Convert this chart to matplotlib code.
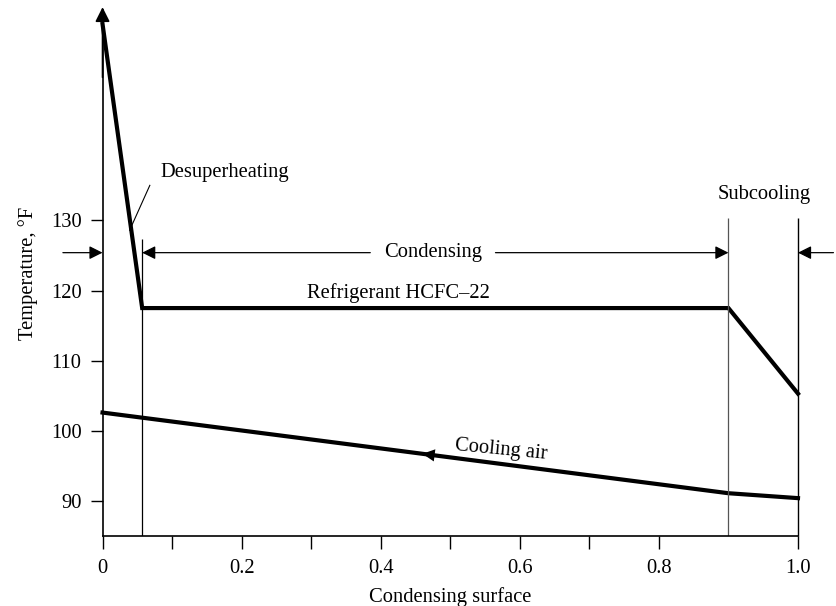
import matplotlib.pyplot as plt
import numpy as np

plt.rcParams['font.family'] = ['Liberation Serif', 'DejaVu Serif']

# data
refrig_x = [0, 0.057, 0.9, 1.0]
refrig_y = [158, 117.5, 117.5, 105.3]
air_x = [0, 0.9, 1.0]
air_y = [102.6, 91.1, 90.4]
yticks = [90, 100, 110, 120, 130]
xticks = [0, 0.2, 0.4, 0.6, 0.8, 1.0]
xtick_labels = ['0', '0.2', '0.4', '0.6', '0.8', '1.0']
zone_edges = [0.057, 0.9, 1.0]
dim_y = 125.4

FS = 14.8


def main():
    fig = plt.figure(figsize=(8.37, 6.06), dpi=100)
    ax = fig.add_axes([0.1225, 0.1155, 0.8309, 0.868])
    ax.set_xlim(0, 1.0)
    ax.set_ylim(85, 160)

    ax.plot(refrig_x, refrig_y, color='k', lw=3, solid_joinstyle='miter', clip_on=False)
    ax.plot(air_x, air_y, color='k', lw=3, clip_on=False)

    # zone boundaries
    ax.vlines(zone_edges[0], 85, 127.3, color='k', lw=0.9)
    ax.vlines(zone_edges[1], 85, 130.4, color='#555555', lw=0.9)
    ax.vlines(zone_edges[2], 85, 130.4, color='k', lw=1.0, clip_on=False)

    # spines & ticks
    for s in ['top', 'right']:
        ax.spines[s].set_visible(False)
    ax.spines['left'].set_linewidth(1.2)
    ax.spines['bottom'].set_linewidth(1.2)
    ax.set_yticks(yticks)
    ax.set_xticks(xticks)
    ax.set_xticklabels(xtick_labels)
    ax.set_xticks([0.1, 0.3, 0.5, 0.7], minor=True)
    ax.tick_params(axis='both', which='both', direction='out', length=9, width=1,
                   labelsize=FS, pad=7.5)
    ax.tick_params(axis='y', pad=6)
    ax.set_xlabel('Condensing surface', fontsize=FS, labelpad=6.5)
    ax.set_ylabel('Temperature, °F', fontsize=FS, labelpad=9)

    # y axis arrow head
    ax.annotate('', xy=(0, 160.8), xytext=(0, 150), xycoords='data',
                arrowprops=dict(arrowstyle='-|>', color='k', lw=1.2, mutation_scale=22),
                annotation_clip=False)

    ap = dict(arrowstyle='-|>', color='k', lw=0.9, mutation_scale=20, shrinkA=0, shrinkB=0)
    ax.annotate('', xy=(0, dim_y), xytext=(-0.057, dim_y), arrowprops=ap, annotation_clip=False)
    ax.annotate('', xy=(zone_edges[0], dim_y), xytext=(0.385, dim_y), arrowprops=ap)
    ax.annotate('', xy=(zone_edges[1], dim_y), xytext=(0.565, dim_y), arrowprops=ap)
    ax.annotate('', xy=(zone_edges[2], dim_y), xytext=(1.051, dim_y), arrowprops=ap,
                annotation_clip=False)

    ax.text(0.475, dim_y, 'Condensing', fontsize=FS, ha='center', va='center')
    ax.text(0.952, 133.7, 'Subcooling', fontsize=FS, ha='center', va='center',
            clip_on=False)
    ax.text(0.425, 119.6, 'Refrigerant HCFC–22', fontsize=FS, ha='center', va='center')
    ax.text(0.084, 136.8, 'Desuperheating', fontsize=FS, ha='left', va='center')
    ax.plot([0.068, 0.039], [135.0, 128.6], color='k', lw=0.8)
    ax.text(0.573, 97.2, 'Cooling air', fontsize=FS, ha='center', va='center',
            rotation=-5.5)

    # flow arrow on the cooling air line
    xa = [0.5, 0.46]
    ya = np.interp(xa, air_x, air_y)
    ax.annotate('', xy=(xa[1], ya[1]), xytext=(xa[0], ya[0]),
                arrowprops=dict(arrowstyle='-|>', color='k', lw=0, mutation_scale=22,
                                shrinkA=0, shrinkB=0))

    fig.savefig('out.png', dpi=100)


if __name__ == '__main__':
    main()
